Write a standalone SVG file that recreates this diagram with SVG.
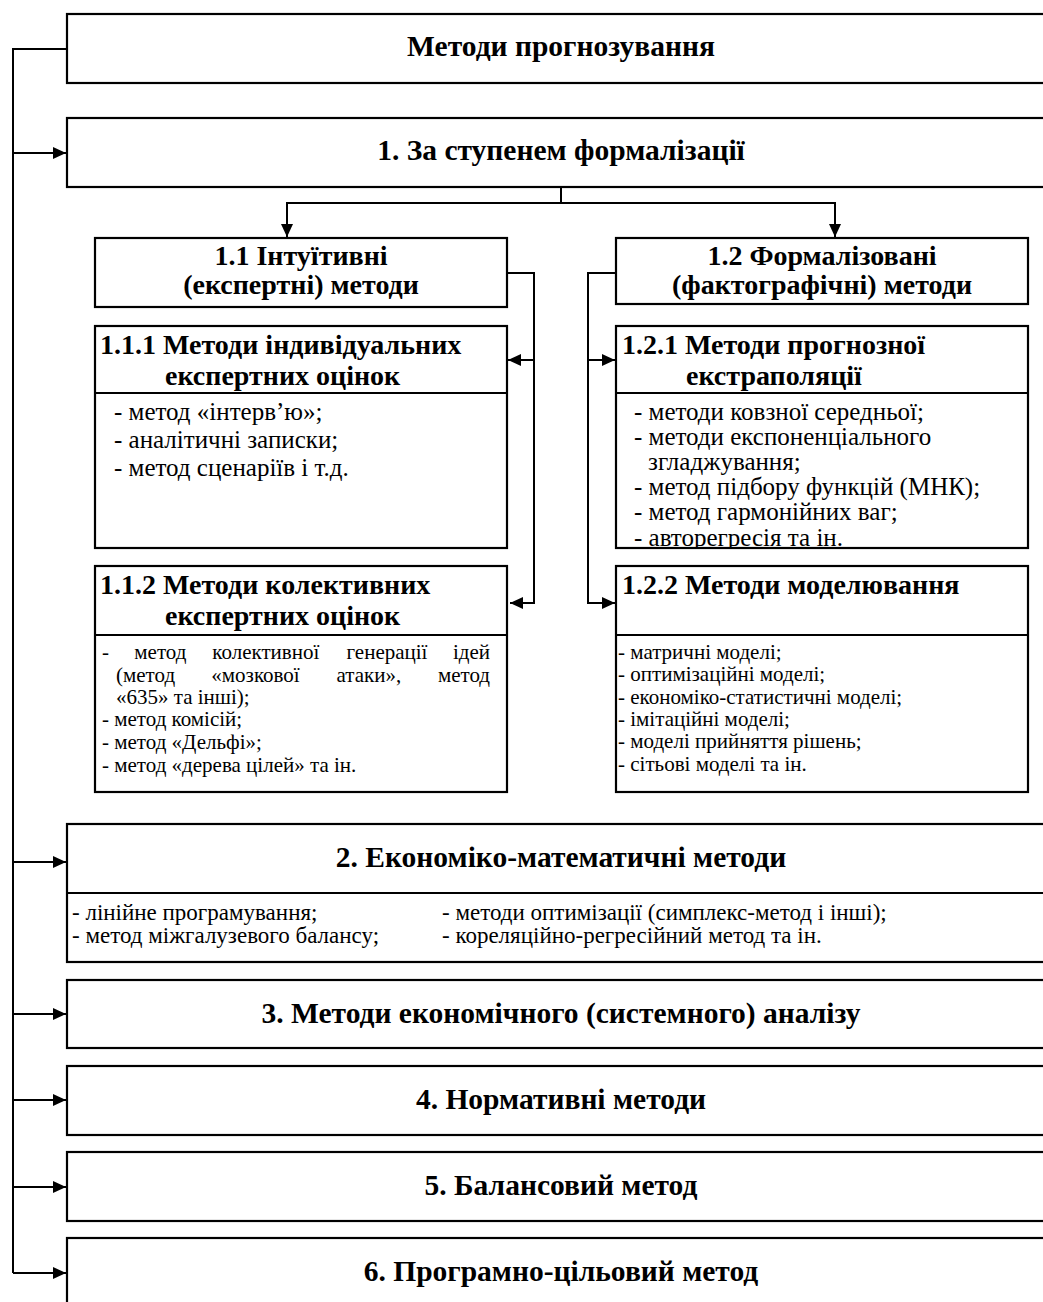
<svg xmlns="http://www.w3.org/2000/svg" width="1043" height="1302" viewBox="0 0 1043 1302">
<defs>
<style>
text{font-family:"Liberation Serif","Times New Roman",serif;fill:#000}
.h{font-weight:bold;font-size:29.5px}
.s{font-weight:bold;font-size:28px}
.i{font-size:25px}
.j{font-size:21px}
.k{font-size:23px}
.box{fill:#fff;stroke:#000;stroke-width:2.2}
.sep{stroke:#000;stroke-width:2.2}
.c{fill:none;stroke:#000;stroke-width:2}
</style>
<marker id="a" viewBox="0 0 13 12" refX="13" refY="6" markerWidth="13" markerHeight="12" markerUnits="userSpaceOnUse" orient="auto">
<path d="M0,0 L13,6 L0,12 Z" fill="#000"/>
</marker>
<clipPath id="clip121"><rect x="616" y="393" width="412" height="155"/></clipPath>
</defs>
<rect width="1043" height="1302" fill="#fff"/>

<g id="connectors">
<polyline class="c" points="67,49 13,49 13,1273"/>
<line class="c" x1="13" y1="153" x2="66" y2="153" marker-end="url(#a)"/>
<line class="c" x1="13" y1="862" x2="66" y2="862" marker-end="url(#a)"/>
<line class="c" x1="13" y1="1014" x2="66" y2="1014" marker-end="url(#a)"/>
<line class="c" x1="13" y1="1100" x2="66" y2="1100" marker-end="url(#a)"/>
<line class="c" x1="13" y1="1187" x2="66" y2="1187" marker-end="url(#a)"/>
<line class="c" x1="13" y1="1273" x2="66" y2="1273" marker-end="url(#a)"/>
<line class="c" x1="561" y1="187" x2="561" y2="203"/>
<line class="c" x1="287" y1="203" x2="835" y2="203"/>
<line class="c" x1="287" y1="202" x2="287" y2="237" marker-end="url(#a)"/>
<line class="c" x1="835" y1="202" x2="835" y2="237" marker-end="url(#a)"/>
<polyline class="c" points="507,273 534,273 534,603 510,603" marker-end="url(#a)"/>
<line class="c" x1="534" y1="360" x2="508" y2="360" marker-end="url(#a)"/>
<polyline class="c" points="616,273 588,273 588,603 615,603" marker-end="url(#a)"/>
<line class="c" x1="588" y1="360" x2="615" y2="360" marker-end="url(#a)"/>
</g>

<g id="n0">
<rect class="box" x="67" y="14" width="990" height="69"/>
<text class="h" x="561" y="56" text-anchor="middle">Методи прогнозування</text>
</g>

<g id="n1">
<rect class="box" x="67" y="118" width="990" height="69"/>
<text class="h" x="561" y="160" text-anchor="middle">1. За ступенем формалізації</text>
</g>

<g id="n11">
<rect class="box" x="95" y="238" width="412" height="69"/>
<text class="s" x="301" y="265" text-anchor="middle">1.1 Інтуїтивні</text>
<text class="s" x="301" y="294" text-anchor="middle">(експертні) методи</text>
</g>

<g id="n12">
<rect class="box" x="616" y="238" width="412" height="66"/>
<text class="s" x="822" y="265" text-anchor="middle">1.2 Формалізовані</text>
<text class="s" x="822" y="294" text-anchor="middle">(фактографічні) методи</text>
</g>

<g id="n111">
<rect class="box" x="95" y="326" width="412" height="222"/>
<line class="sep" x1="95" y1="393" x2="507" y2="393"/>
<text class="s" x="100" y="354">1.1.1 Методи індивідуальних</text>
<text class="s" x="165" y="385">експертних оцінок</text>
<text class="i" x="114" y="420">- метод «інтерв’ю»;</text>
<text class="i" x="114" y="448">- аналітичні записки;</text>
<text class="i" x="114" y="476">- метод сценаріїв і т.д.</text>
</g>

<g id="n112">
<rect class="box" x="95" y="566" width="412" height="226"/>
<line class="sep" x1="95" y1="635" x2="507" y2="635"/>
<text class="s" x="100" y="594">1.1.2 Методи колективних</text>
<text class="s" x="165" y="625">експертних оцінок</text>
<text class="j" x="102" y="659">-</text>
<text class="j" x="134.3" y="659">метод</text>
<text class="j" x="212.3" y="659">колективної</text>
<text class="j" x="346.5" y="659">генерації</text>
<text class="j" x="490" y="659" text-anchor="end">ідей</text>
<text class="j" x="116" y="682">(метод</text>
<text class="j" x="211.3" y="682">«мозкової</text>
<text class="j" x="336.5" y="682">атаки»,</text>
<text class="j" x="490" y="682" text-anchor="end">метод</text>
<text class="j" x="116" y="704">«635» та інші);</text>
<text class="j" x="102" y="726">- метод комісій;</text>
<text class="j" x="102" y="749">- метод «Дельфі»;</text>
<text class="j" x="102" y="772">- метод «дерева цілей» та ін.</text>
</g>

<g id="n121">
<rect class="box" x="616" y="326" width="412" height="222"/>
<line class="sep" x1="616" y1="393" x2="1028" y2="393"/>
<text class="s" x="622" y="354">1.2.1 Методи прогнозної</text>
<text class="s" x="686" y="385">екстраполяції</text>
<g clip-path="url(#clip121)">
<text class="i" x="634" y="420">- методи ковзної середньої;</text>
<text class="i" x="634" y="445">- методи експоненціального</text>
<text class="i" x="648" y="470">згладжування;</text>
<text class="i" x="634" y="495">- метод підбору функцій (МНК);</text>
<text class="i" x="634" y="520">- метод гармонійних ваг;</text>
<text class="i" x="634" y="546">- авторегресія та ін.</text>
</g>
</g>

<g id="n122">
<rect class="box" x="616" y="566" width="412" height="226"/>
<line class="sep" x1="616" y1="635" x2="1028" y2="635"/>
<text class="s" x="622" y="594">1.2.2 Методи моделювання</text>
<text class="j" x="618" y="659">- матричні моделі;</text>
<text class="j" x="618" y="681">- оптимізаційні моделі;</text>
<text class="j" x="618" y="704">- економіко-статистичні моделі;</text>
<text class="j" x="618" y="726">- імітаційні моделі;</text>
<text class="j" x="618" y="748">- моделі прийняття рішень;</text>
<text class="j" x="618" y="771">- сітьові моделі та ін.</text>
</g>

<g id="n2">
<rect class="box" x="67" y="824" width="990" height="138"/>
<line class="sep" x1="67" y1="893" x2="1057" y2="893"/>
<text class="h" x="561" y="867" text-anchor="middle">2. Економіко-математичні методи</text>
<text class="k" x="72" y="920">- лінійне програмування;</text>
<text class="k" x="72" y="943">- метод міжгалузевого балансу;</text>
<text class="k" x="442" y="920">- методи оптимізації (симплекс-метод і інші);</text>
<text class="k" x="442" y="943">- кореляційно-регресійний метод та ін.</text>
</g>

<g id="n3">
<rect class="box" x="67" y="980" width="990" height="68"/>
<text class="h" x="561" y="1023" text-anchor="middle">3. Методи економічного (системного) аналізу</text>
</g>

<g id="n4">
<rect class="box" x="67" y="1066" width="990" height="69"/>
<text class="h" x="561" y="1109" text-anchor="middle">4. Нормативні методи</text>
</g>

<g id="n5">
<rect class="box" x="67" y="1152" width="990" height="69"/>
<text class="h" x="561" y="1195" text-anchor="middle">5. Балансовий метод</text>
</g>

<g id="n6">
<rect class="box" x="67" y="1238" width="990" height="80"/>
<text class="h" x="561" y="1281" text-anchor="middle">6. Програмно-цільовий метод</text>
</g>
</svg>
